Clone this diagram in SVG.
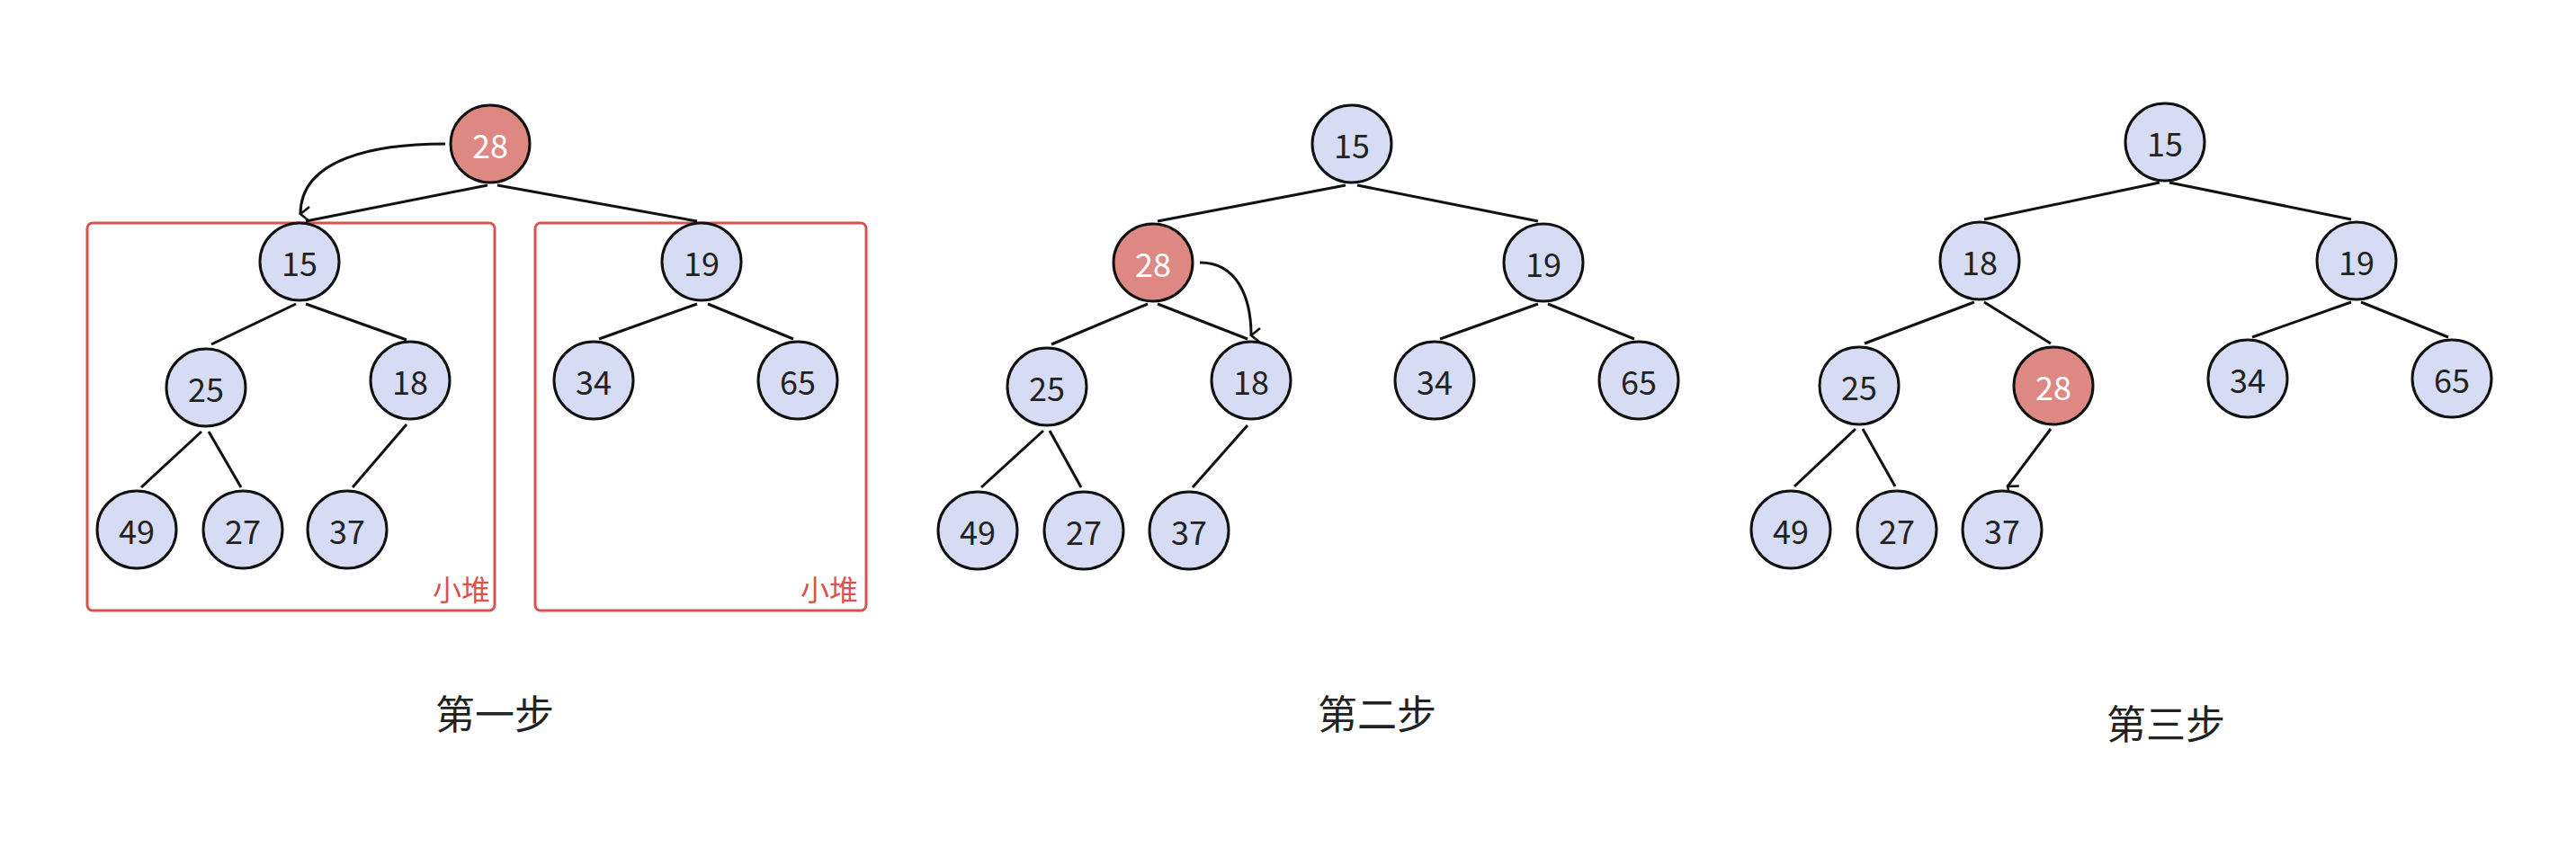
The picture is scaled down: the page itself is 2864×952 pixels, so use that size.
<svg xmlns="http://www.w3.org/2000/svg" width="2864" height="952" viewBox="0 0 2864 952">
<defs>
<marker id="ah" viewBox="0 0 20 20" refX="10" refY="18" markerWidth="20" markerHeight="20" markerUnits="userSpaceOnUse" orient="auto-start-reverse">
<path d="M2,8 L10,18 L18,8" fill="none" stroke="#111" stroke-width="2.5"/>
</marker>
<style>
.n ellipse{fill:#d6dcf3;stroke:#111;stroke-width:3}
.r ellipse{fill:#de8883}
.n text{font-family:"Noto Sans CJK SC","Noto Sans",sans-serif;font-size:36px;fill:#222;text-anchor:middle;dominant-baseline:central}
.r text{fill:#fff}
.e line,.e path{stroke:#111;stroke-width:3;fill:none}
.a{marker-end:url(#ah)}
.box{fill:none;stroke:#d9534f;stroke-width:3}
.bl{font-family:"Noto Sans CJK SC",sans-serif;font-size:32px;fill:#d9534f;text-anchor:end}
.st{font-family:"Noto Sans CJK SC",sans-serif;font-size:44px;fill:#222;text-anchor:middle}
</style>
</defs>
<rect width="2864" height="952" fill="#fff"/>
<g id="boxes">
<rect class="box" x="97" y="248" width="453" height="431" rx="6"/>
<rect class="box" x="595" y="248" width="368" height="431" rx="6"/>
<text class="bl" x="545" y="668">小堆</text>
<text class="bl" x="954" y="668">小堆</text>
</g>
<g id="connectors" class="e">
<line x1="542" y1="206" x2="340" y2="246"/>
<line x1="553" y1="206" x2="775" y2="246"/>
<path class="a" d="M495,160 C420,160 334,175 334,238"/>
<line x1="329" y1="338" x2="235" y2="383"/>
<line x1="340" y1="338" x2="452" y2="378"/>
<line x1="224" y1="480" x2="157" y2="542"/>
<line x1="232" y1="480" x2="268" y2="542"/>
<line x1="452" y1="472" x2="392" y2="542"/>
<line x1="775" y1="338" x2="666" y2="377"/>
<line x1="787" y1="338" x2="882" y2="377"/>

<line x1="1496" y1="206" x2="1287" y2="246"/>
<line x1="1509" y1="206" x2="1710" y2="246"/>
<line x1="1276" y1="338" x2="1169" y2="383"/>
<line x1="1287" y1="338" x2="1387" y2="377"/>
<line x1="1710" y1="338" x2="1601" y2="377"/>
<line x1="1721" y1="338" x2="1817" y2="377"/>
<line x1="1160" y1="479" x2="1091" y2="542"/>
<line x1="1167" y1="479" x2="1202" y2="542"/>
<line x1="1387" y1="473" x2="1326" y2="542"/>
<path class="a" d="M1334,292 C1375,292 1391,330 1391,373"/>

<line x1="2401" y1="203" x2="2206" y2="244"/>
<line x1="2412" y1="203" x2="2614" y2="244"/>
<line x1="2195" y1="336" x2="2073" y2="382"/>
<line x1="2206" y1="336" x2="2280" y2="382"/>
<line x1="2614" y1="336" x2="2504" y2="375"/>
<line x1="2625" y1="336" x2="2722" y2="375"/>
<line x1="2063" y1="477" x2="1995" y2="541"/>
<line x1="2071" y1="477" x2="2107" y2="541"/>
<line class="a" x1="2280" y1="477" x2="2232" y2="541"/>
</g>
<g id="s1-28" class="n r"><ellipse cx="545" cy="160" rx="44" ry="43"/><text x="545" y="160">28</text></g>
<g id="s1-15" class="n"><ellipse cx="333" cy="291" rx="44" ry="43"/><text x="333" y="291">15</text></g>
<g id="s1-19" class="n"><ellipse cx="780" cy="291" rx="44" ry="43"/><text x="780" y="291">19</text></g>
<g id="s1-25" class="n"><ellipse cx="229" cy="431" rx="44" ry="43"/><text x="229" y="431">25</text></g>
<g id="s1-18" class="n"><ellipse cx="456" cy="423" rx="44" ry="43"/><text x="456" y="423">18</text></g>
<g id="s1-34" class="n"><ellipse cx="660" cy="423" rx="44" ry="43"/><text x="660" y="423">34</text></g>
<g id="s1-65" class="n"><ellipse cx="887" cy="423" rx="44" ry="43"/><text x="887" y="423">65</text></g>
<g id="s1-49" class="n"><ellipse cx="152" cy="589" rx="44" ry="43"/><text x="152" y="589">49</text></g>
<g id="s1-27" class="n"><ellipse cx="270" cy="589" rx="44" ry="43"/><text x="270" y="589">27</text></g>
<g id="s1-37" class="n"><ellipse cx="386" cy="589" rx="44" ry="43"/><text x="386" y="589">37</text></g>

<g id="s2-15" class="n"><ellipse cx="1503" cy="160" rx="44" ry="43"/><text x="1503" y="160">15</text></g>
<g id="s2-28" class="n r"><ellipse cx="1282" cy="292" rx="44" ry="43"/><text x="1282" y="292">28</text></g>
<g id="s2-19" class="n"><ellipse cx="1716" cy="292" rx="44" ry="43"/><text x="1716" y="292">19</text></g>
<g id="s2-25" class="n"><ellipse cx="1164" cy="430" rx="44" ry="43"/><text x="1164" y="430">25</text></g>
<g id="s2-18" class="n"><ellipse cx="1391" cy="423" rx="44" ry="43"/><text x="1391" y="423">18</text></g>
<g id="s2-34" class="n"><ellipse cx="1595" cy="423" rx="44" ry="43"/><text x="1595" y="423">34</text></g>
<g id="s2-65" class="n"><ellipse cx="1822" cy="423" rx="44" ry="43"/><text x="1822" y="423">65</text></g>
<g id="s2-49" class="n"><ellipse cx="1087" cy="590" rx="44" ry="43"/><text x="1087" y="590">49</text></g>
<g id="s2-27" class="n"><ellipse cx="1205" cy="590" rx="44" ry="43"/><text x="1205" y="590">27</text></g>
<g id="s2-37" class="n"><ellipse cx="1322" cy="590" rx="44" ry="43"/><text x="1322" y="590">37</text></g>

<g id="s3-15" class="n"><ellipse cx="2407" cy="158" rx="44" ry="43"/><text x="2407" y="158">15</text></g>
<g id="s3-18" class="n"><ellipse cx="2201" cy="290" rx="44" ry="43"/><text x="2201" y="290">18</text></g>
<g id="s3-19" class="n"><ellipse cx="2620" cy="290" rx="44" ry="43"/><text x="2620" y="290">19</text></g>
<g id="s3-25" class="n"><ellipse cx="2067" cy="429" rx="44" ry="43"/><text x="2067" y="429">25</text></g>
<g id="s3-28" class="n r"><ellipse cx="2283" cy="429" rx="44" ry="43"/><text x="2283" y="429">28</text></g>
<g id="s3-34" class="n"><ellipse cx="2499" cy="421" rx="44" ry="43"/><text x="2499" y="421">34</text></g>
<g id="s3-65" class="n"><ellipse cx="2726" cy="421" rx="44" ry="43"/><text x="2726" y="421">65</text></g>
<g id="s3-49" class="n"><ellipse cx="1991" cy="589" rx="44" ry="43"/><text x="1991" y="589">49</text></g>
<g id="s3-27" class="n"><ellipse cx="2109" cy="589" rx="44" ry="43"/><text x="2109" y="589">27</text></g>
<g id="s3-37" class="n"><ellipse cx="2226" cy="589" rx="44" ry="43"/><text x="2226" y="589">37</text></g>

<g id="labels">
<text class="st" x="550" y="811">第一步</text>
<text class="st" x="1531" y="811">第二步</text>
<text class="st" x="2408" y="822">第三步</text>
</g>
</svg>
